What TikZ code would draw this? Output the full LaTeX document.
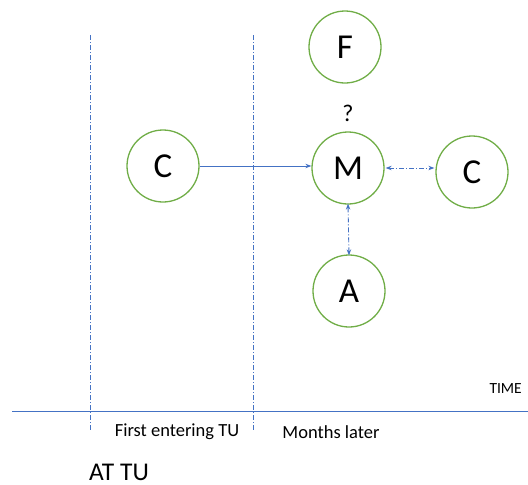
\documentclass[tikz,border=0pt]{standalone}
\usepackage{fontspec}
\setmainfont{Carlito}
\usetikzlibrary{arrows.meta}
\definecolor{ringgreen}{RGB}{112,173,71}
\definecolor{lineblue}{RGB}{68,114,196}
\tikzset{
  actor/.style={circle, draw=ringgreen, line width=1.3pt, minimum size=72pt, inner sep=0pt, font=\fontsize{35}{35}\selectfont},
  phase/.style={draw=lineblue, line width=0.8pt, dash pattern=on 5pt off 2pt on 1pt off 2pt},
  link/.style={draw=lineblue, line width=0.9pt},
  dashlink/.style={link, dash pattern=on 5pt off 2pt on 1pt off 2pt},
  tip/.style={-{Stealth[length=6pt,width=4.5pt]}},
  twotip/.style={{Stealth[length=6pt,width=4.5pt]}-{Stealth[length=6pt,width=4.5pt]}},
  lbl/.style={inner sep=0pt, font=\fontsize{18.5}{18.5}\selectfont}
}
\begin{document}
\begin{tikzpicture}[x=1pt, y=-1pt]
\useasboundingbox (0,0) rectangle (528,485);

% phase boundaries and time axis
\coordinate (p1top) at (90,35);
\coordinate (p1bot) at (90,431);
\coordinate (p2top) at (253,35);
\coordinate (p2bot) at (253,431);
\draw[phase] (p1top) -- (p1bot);
\draw[phase] (p2top) -- (p2bot);
\coordinate (axisL) at (12,411);
\coordinate (axisR) at (528,411);
\draw[link] (axisL) -- (axisR);

% actors
\node[actor] (F)  at (345,47)  {F};
\node[actor] (C1) at (163,166) {C};
\node[actor] (M)  at (348,168) {M};
\node[actor] (C2) at (472,172) {C};
\node[actor] (A)  at (349,291) {A};
\node[inner sep=0pt, font=\fontsize{24}{24}\selectfont] (q) at (348,113) {?};

% connections
\draw[link, tip] (C1.east) -- (C1.east -| M.west);
\draw[dashlink, twotip] ([xshift=1pt]M.east) -- ([xshift=-1pt]M.east -| C2.west);
\draw[dashlink, twotip] ([yshift=1pt]M.south) -- ([yshift=-1pt]A.north);

% labels
\node[inner sep=0pt, anchor=east, font=\fontsize{15.5}{15.5}\selectfont] (time) at (522,389) {TIME};
\node[lbl] (first) at (177,432) {First entering TU};
\node[lbl] (later) at (331,432) {Months later};
\node[inner sep=0pt, anchor=base west, font=\fontsize{25.5}{25.5}\selectfont] (attu) at (89,480) {AT TU};
\end{tikzpicture}
\end{document}
